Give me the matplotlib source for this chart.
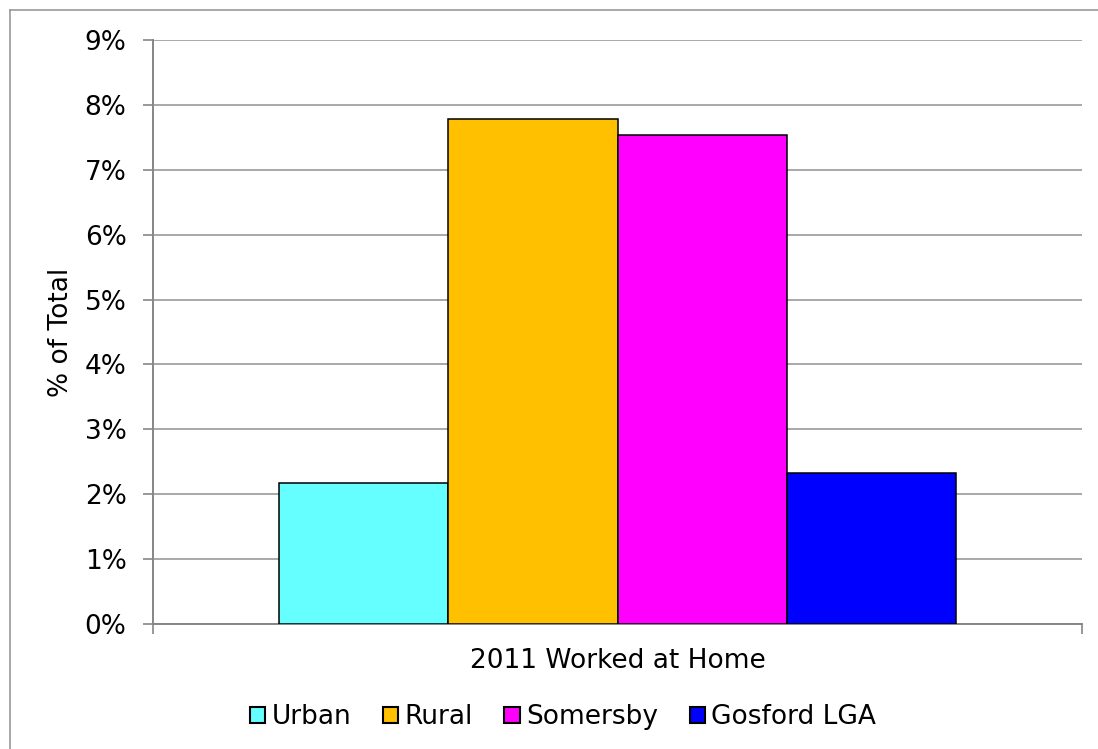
import numpy as np
import matplotlib
matplotlib.use("Agg")
import matplotlib.pyplot as plt
from matplotlib.lines import Line2D
from matplotlib.ticker import PercentFormatter

# data
category = "2011 Worked at Home"
series = ["Urban", "Rural", "Somersby", "Gosford LGA"]
values = [2.18, 7.78, 7.54, 2.33]  # % of total
colors = ["#66FFFF", "#FFC000", "#FF00FF", "#0000FF"]

plt.rcParams['font.family'] = ['DejaVu Sans']
fs = 19

fig = plt.figure(figsize=(10.98, 7.49), dpi=100)
ax = fig.add_axes([153 / 1098, 125 / 749, 929 / 1098, 584 / 749])

# outer chart-area border: only top and left edges are inside the image
bx, by = 9.5 / 1098, 1 - 9.5 / 749
fig.add_artist(Line2D([bx, 1.0], [by, by], transform=fig.transFigure,
                      color="#9a9a9a", linewidth=1.2))
fig.add_artist(Line2D([bx, bx], [0.0, by], transform=fig.transFigure,
                      color="#9a9a9a", linewidth=1.2))

width = 169.3 / 929
offsets = (np.arange(len(series)) - (len(series) - 1) / 2) * width
for off, val, col, name in zip(offsets, values, colors, series):
    ax.bar(off, val, width=width, color=col, edgecolor="black",
           linewidth=1.1, label=name, zorder=3)

ax.set_xlim(-0.5, 0.5)
ax.set_ylim(0, 9)
ax.set_yticks(np.arange(0, 10, 1))
ax.yaxis.set_major_formatter(PercentFormatter(decimals=0))
ax.grid(axis="y", color="#9a9a9a", linewidth=1.2, zorder=0)

for side in ["top", "right"]:
    ax.spines[side].set_visible(False)
for side in ["left", "bottom"]:
    ax.spines[side].set_color("#868686")
    ax.spines[side].set_linewidth(1.4)

ax.tick_params(axis="y", direction="out", length=7, width=1.2,
               color="#868686", labelsize=fs, pad=12)
ax.set_xticks([-0.5, 0.5])
ax.set_xticklabels([])
ax.tick_params(axis="x", direction="out", length=7, width=1.2, color="#868686")

ax.text(0, -0.063, category, transform=ax.get_xaxis_transform(),
        ha="center", va="center", fontsize=fs)

ax.set_ylabel("% of Total", fontsize=fs)
ax.yaxis.set_label_coords(-0.085, 0.5)

leg = fig.legend(loc="center", bbox_to_anchor=(563 / 1098, 1 - 717 / 749), ncol=4,
                 frameon=False, fontsize=fs, handlelength=0.57, handleheight=0.57,
                 handletextpad=0.25, columnspacing=1.2)
for h in leg.legend_handles:
    h.set_linewidth(1.5)

fig.savefig("out.png", dpi=100)
